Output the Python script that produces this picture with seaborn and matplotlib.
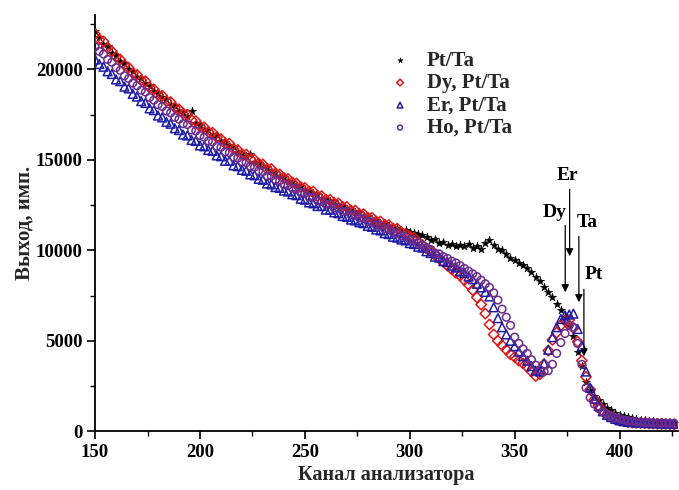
import numpy as np
import pandas as pd
import matplotlib
matplotlib.use("Agg")
import matplotlib.pyplot as plt
import seaborn as sns

# Analyzer channels (every second channel)
channels = list(range(150, 427, 2))

pt_ta = [
    22100, 21800, 21400, 21300, 20900, 20800, 20450, 20350, 20000, 19900,
    19600, 19500, 19250, 19100, 18800, 18700, 18450, 18350, 18050, 18000,
    17700, 17650, 17400, 17700, 17050, 16950, 16700, 16650, 16400, 16350,
    16050, 16000, 15800, 15700, 15450, 15400, 15200, 15350, 14900, 14850,
    14650, 14600, 14400, 14350, 14100, 14050, 13850, 13800, 13600, 13550,
    13350, 13300, 13150, 13100, 12900, 12850, 12700, 12700, 12500, 12450,
    12300, 12300, 12100, 12100, 11900, 11900, 11700, 11700, 11500, 11500,
    11350, 11300, 11250, 11150, 11100, 11000, 10950, 10900, 10850, 10750,
    10550, 10650, 10400, 10450, 10300, 10350, 10250, 10300, 10250, 10350,
    10150, 10250, 10100, 10400, 10550, 10300, 10100, 10000, 9800, 9600,
    9450, 9300, 9200, 9050, 8800, 8550, 8300, 8000, 7700, 7400,
    7050, 6700, 6300, 5800, 5250, 4400, 3600, 2700, 2300, 1950,
    1700, 1500, 1300, 1150, 1000, 900, 820, 760, 720, 680,
    640, 610, 580, 550, 520, 500, 480, 460, 450,
]

dy_pt_ta = [
    21950, 21650, 21550, 21200, 21000, 20700, 20550, 20250, 20100, 19800,
    19700, 19400, 19350, 19000, 18900, 18600, 18550, 18250, 18200, 17900,
    17800, 17550, 17500, 17200, 17150, 16850, 16800, 16550, 16500, 16250,
    16150, 15900, 15900, 15600, 15550, 15300, 15300, 15050, 15000, 14800,
    14750, 14500, 14500, 14250, 14200, 14000, 13950, 13750, 13700, 13500,
    13450, 13250, 13250, 13000, 13000, 12800, 12800, 12600, 12600, 12400,
    12400, 12200, 12200, 12000, 12000, 11800, 11800, 11600, 11600, 11400,
    11400, 11200, 11200, 11000, 10900, 10750, 10700, 10450, 10300, 10100,
    9950, 9750, 9550, 9350, 9150, 8950, 8750, 8600, 8350, 8100,
    7800, 7400, 7000, 6500, 5900, 5350, 5000, 4750, 4500, 4250,
    4100, 3900, 3750, 3550, 3300, 3050, 3150, 3700, 4450, 5050,
    5450, 5850, 6100, 6150, 5700, 4950, 3900, 3000, 2300, 1750,
    1400, 1100, 900, 780, 680, 600, 550, 510, 480, 460,
    450, 440, 430, 420, 410, 400, 400, 390, 380,
]

er_pt_ta = [
    20550, 20300, 20150, 19900, 19750, 19450, 19350, 19050, 18950, 18650,
    18500, 18250, 18150, 17850, 17750, 17450, 17350, 17100, 17000, 16750,
    16650, 16400, 16350, 16100, 16050, 15800, 15750, 15550, 15500, 15250,
    15200, 14950, 14950, 14700, 14650, 14450, 14400, 14200, 14150, 13950,
    13900, 13700, 13650, 13500, 13450, 13300, 13250, 13100, 13050, 12850,
    12800, 12650, 12600, 12450, 12450, 12250, 12250, 12100, 12050, 11900,
    11850, 11700, 11650, 11550, 11500, 11350, 11300, 11150, 11100, 10950,
    10900, 10750, 10700, 10600, 10550, 10400, 10350, 10200, 10150, 9950,
    9850, 9650, 9600, 9400, 9350, 9150, 9050, 8850, 8750, 8550,
    8400, 8150, 7950, 7700, 7450, 6850, 6250, 5750, 5350, 5000,
    4700, 4400, 4150, 3900, 3600, 3350, 3300, 3750, 4500, 5200,
    5750, 6200, 6400, 6450, 6500, 5650, 4700, 3300, 2400, 1800,
    1400, 1100, 900, 780, 680, 600, 550, 520, 500, 480,
    470, 460, 450, 440, 440, 430, 420, 420, 410,
]

ho_pt_ta = [
    21250, 21000, 20850, 20550, 20400, 20100, 19950, 19650, 19500, 19250,
    19100, 18850, 18750, 18450, 18300, 18050, 17950, 17700, 17600, 17350,
    17250, 17000, 16950, 16650, 16600, 16350, 16250, 16050, 16000, 15750,
    15700, 15450, 15400, 15150, 15100, 14900, 14850, 14650, 14600, 14400,
    14350, 14100, 14100, 13900, 13850, 13650, 13600, 13450, 13400, 13200,
    13150, 12950, 12950, 12750, 12700, 12550, 12550, 12350, 12350, 12150,
    12150, 11950, 11950, 11800, 11750, 11600, 11550, 11400, 11350, 11200,
    11150, 11000, 10950, 10800, 10750, 10600, 10550, 10400, 10300, 10150,
    10050, 9850, 9800, 9650, 9550, 9400, 9300, 9150, 9000, 8850,
    8700, 8550, 8350, 8150, 7950, 7650, 7250, 6750, 6300, 5850,
    5200, 4850, 4550, 4300, 3950, 3650, 3400, 3300, 3350, 3700,
    4300, 4900, 5400, 5850, 5750, 4850, 3700, 2400, 1850, 1500,
    1250, 1050, 950, 850, 750, 680, 620, 580, 550, 520,
    500, 480, 470, 460, 450, 445, 440, 440, 435,
]

series_labels = ["Pt/Ta", "Dy, Pt/Ta", "Er, Pt/Ta", "Ho, Pt/Ta"]

# Edge labels with arrow tip / tail positions (channel, counts)
edge_names = ["Er", "Dy", "Ta", "Pt"]
edge_channels = [376.2, 374.1, 380.6, 383.0]
edge_tails = [13370, 11380, 10770, 7850]
edge_tips = [9670, 7680, 7130, 4140]
edge_text_x = [375.2, 369.0, 384.8, 387.6]
edge_text_y = [14150, 12100, 11550, 8680]

sns.set_theme(style="ticks")
plt.rcParams["font.family"] = ["Liberation Serif", "DejaVu Serif"]
plt.rcParams["font.weight"] = "bold"
plt.rcParams["axes.labelweight"] = "bold"

df = pd.DataFrame({
    "channel": channels * 4,
    "counts": pt_ta + dy_pt_ta + er_pt_ta + ho_pt_ta,
    "sample": sum([[lab] * len(channels) for lab in series_labels], []),
})

styles = {
    "Pt/Ta": dict(marker="*", color="black", s=40, filled=True),
    "Dy, Pt/Ta": dict(marker="D", color="#e01818", s=28, filled=False),
    "Er, Pt/Ta": dict(marker="^", color="#1c1ca6", s=40, filled=False),
    "Ho, Pt/Ta": dict(marker="o", color="#6a2c8e", s=30, filled=False),
}

fig = plt.figure(figsize=(6.79, 4.90), dpi=100)
ax = fig.add_axes([0.140, 0.120, 0.859, 0.849])

for lab in series_labels:
    st = styles[lab]
    sub = df[df["sample"] == lab]
    if st["filled"]:
        sns.scatterplot(data=sub, x="channel", y="counts", marker=st["marker"],
                        s=st["s"], color=st["color"], edgecolor=st["color"],
                        linewidth=0.3, label=lab, ax=ax, zorder=3)
    else:
        sns.scatterplot(data=sub, x="channel", y="counts", marker=st["marker"],
                        s=st["s"], facecolor="none", edgecolor=st["color"],
                        linewidth=1.1, label=lab, ax=ax, zorder=3)

ax.set_xlim(150, 428)
ax.set_ylim(0, 23000)
ax.set_xticks([150, 200, 250, 300, 350, 400])
ax.set_yticks([0, 5000, 10000, 15000, 20000])
ax.set_xticks(np.arange(175, 428, 50), minor=True)
ax.set_yticks(np.arange(2500, 23000, 5000), minor=True)

for sp in ["top", "right"]:
    ax.spines[sp].set_visible(False)
for sp in ["left", "bottom"]:
    ax.spines[sp].set_linewidth(1.3)
    ax.spines[sp].set_color("black")

ax.tick_params(axis="both", which="major", direction="out", length=6, width=1.2,
               labelsize=13.5, colors="black", pad=3)
ax.tick_params(axis="both", which="minor", direction="out", length=3.5, width=1.0,
               colors="black")
for t in ax.get_xticklabels() + ax.get_yticklabels():
    t.set_fontweight("bold")

ax.set_xlabel("Канал анализатора", fontsize=14.5, fontweight="bold", labelpad=3)
ax.set_ylabel("Выход, имп.", fontsize=15, fontweight="bold", labelpad=1)

for name, xc, yt, ytip, tx, ty in zip(edge_names, edge_channels, edge_tails,
                                      edge_tips, edge_text_x, edge_text_y):
    ax.annotate("", xy=(xc, ytip), xytext=(xc, yt),
                arrowprops=dict(arrowstyle="-|>", color="black", lw=0.9,
                                mutation_scale=11, shrinkA=0, shrinkB=0),
                zorder=4)
    ax.text(tx, ty, name, ha="center", va="center", fontsize=14,
            fontweight="bold", color="black", zorder=4)

leg = ax.legend(loc="upper left", bbox_to_anchor=(0.48, 0.935), frameon=False,
                fontsize=15, markerscale=0.65, handletextpad=0.5,
                handlelength=1.6, labelspacing=0.12, borderaxespad=0)
for t in leg.get_texts():
    t.set_fontweight("bold")

fig.savefig("out.png", dpi=100)
